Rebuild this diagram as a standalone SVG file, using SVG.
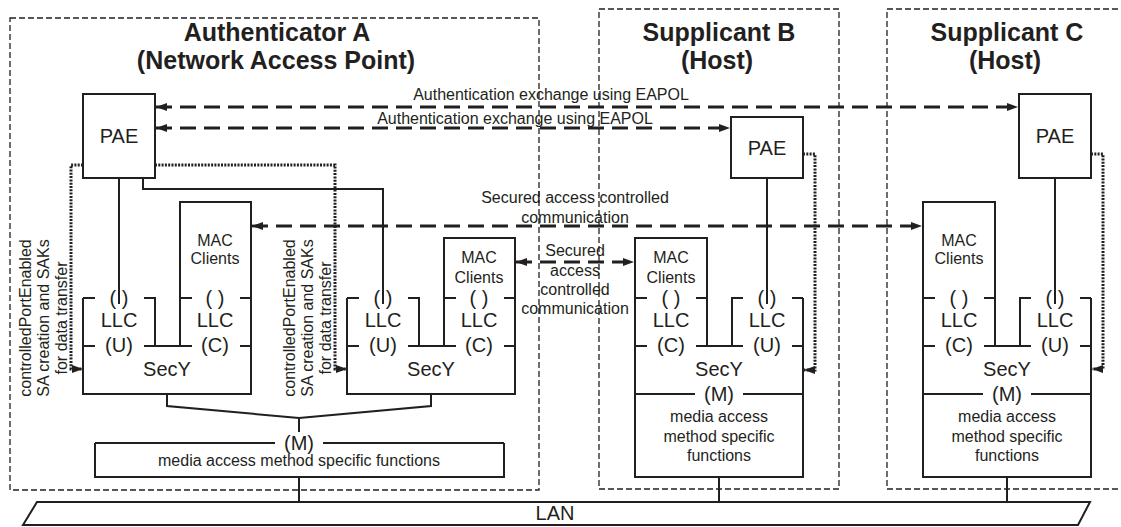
<svg xmlns="http://www.w3.org/2000/svg" width="1121" height="527" viewBox="0 0 1121 527">
<defs>
<marker id="ah" viewBox="0 0 11 8" refX="11" refY="4" markerWidth="11" markerHeight="8" markerUnits="userSpaceOnUse" orient="auto-start-reverse"><path d="M0,0 L11,4 L0,8 z" fill="#231f20"/></marker>
</defs>
<style>
.bx{fill:none;stroke:#231f20;stroke-width:1.3;stroke-dasharray:6 3}
.ln{fill:none;stroke:#231f20;stroke-width:2}
.dash{fill:none;stroke:#231f20;stroke-width:2.8;stroke-dasharray:16 8}
.dot{fill:none;stroke:#231f20;stroke-width:3;stroke-dasharray:2 1.3}
text{font-family:"Liberation Sans",Arial,sans-serif;fill:#231f20}
.t{font-size:25px;font-weight:bold;text-anchor:middle}
.m{font-size:20px;text-anchor:middle}
.s{font-size:16px;text-anchor:middle}
</style>
<rect width="1121" height="527" fill="#fff"/>

<g id="authenticatorA">
<rect class="bx" x="10" y="18" width="529" height="472"/>
<text class="t" x="277" y="41">Authenticator A</text>
<text class="t" x="276" y="69">(Network Access Point)</text>
</g>
<g id="supplicantB">
<rect class="bx" x="599" y="9" width="240" height="480"/>
<text class="t" x="719" y="41">Supplicant B</text>
<text class="t" x="717" y="69">(Host)</text>
</g>
<g id="supplicantC">
<rect class="bx" x="887" y="9" width="240" height="480"/>
<text class="t" x="1007" y="41">Supplicant C</text>
<text class="t" x="1005" y="69">(Host)</text>
</g>

<g id="paeA"><rect class="ln" x="83" y="94" width="72" height="84"/><text class="m" x="119" y="143">PAE</text></g>
<g id="paeB"><rect class="ln" x="731" y="117" width="72" height="61"/><text class="m" x="767" y="155">PAE</text></g>
<g id="paeC"><rect class="ln" x="1019" y="94" width="72" height="84"/><text class="m" x="1055" y="143">PAE</text></g>

<g id="stackA1">
<path class="ln" d="M83,298 V394 H251 V202 H180 V346 M83,298 H95 M144,298 H155 V346 M180,298 H192 M240,298 H251 M83,346 H95 M144,346 H192 M240,346 H251"/>
<text class="s" x="215" y="246">MAC</text><text class="s" x="215" y="264">Clients</text>
<text class="m" x="119" y="305">( )</text><text class="m" x="119" y="327">LLC</text><text class="m" x="119" y="352">(U)</text>
<text class="m" x="215" y="305">( )</text><text class="m" x="215" y="327">LLC</text><text class="m" x="215" y="352">(C)</text>
<text class="m" x="167" y="376">SecY</text>
</g>
<g id="stackA2">
<path class="ln" d="M347,298 V394 H515 V238 H444 V346 M347,298 H359 M408,298 H419 V346 M444,298 H456 M504,298 H515 M347,346 H359 M408,346 H456 M504,346 H515"/>
<text class="s" x="479" y="263">MAC</text><text class="s" x="479" y="283">Clients</text>
<text class="m" x="383" y="305">( )</text><text class="m" x="383" y="327">LLC</text><text class="m" x="383" y="352">(U)</text>
<text class="m" x="479" y="305">( )</text><text class="m" x="479" y="327">LLC</text><text class="m" x="479" y="352">(C)</text>
<text class="m" x="431" y="376">SecY</text>
</g>
<g id="mediaA">
<path class="ln" d="M95,443 V477 H504 V443 M95,443 H275 M323,443 H504"/>
<text class="m" x="299" y="450">(M)</text>
<text class="s" x="299" y="466">media access method specific functions</text>
</g>

<g id="stackB">
<path class="ln" d="M707,346 V238 H635 V477 H803 V298 M732,346 V298 H743 M792,298 H803 M635,298 H647 M696,298 H707 M635,346 H647 M696,346 H743 M792,346 H803 M635,394 H695 M743,394 H803"/>
<text class="s" x="671" y="263">MAC</text><text class="s" x="671" y="283">Clients</text>
<text class="m" x="671" y="305">( )</text><text class="m" x="671" y="327">LLC</text><text class="m" x="671" y="352">(C)</text>
<text class="m" x="767" y="305">( )</text><text class="m" x="767" y="327">LLC</text><text class="m" x="767" y="352">(U)</text>
<text class="m" x="719" y="376">SecY</text>
<text class="m" x="719" y="401">(M)</text>
<text class="s" x="719" y="422">media access</text><text class="s" x="719" y="442">method specific</text><text class="s" x="719" y="461">functions</text>
</g>
<g id="stackC">
<path class="ln" d="M995,346 V202 H923 V477 H1091 V298 M1020,346 V298 H1031 M1080,298 H1091 M923,298 H935 M984,298 H995 M923,346 H935 M984,346 H1031 M1080,346 H1091 M923,394 H983 M1031,394 H1091"/>
<text class="s" x="959" y="246">MAC</text><text class="s" x="959" y="264">Clients</text>
<text class="m" x="959" y="305">( )</text><text class="m" x="959" y="327">LLC</text><text class="m" x="959" y="352">(C)</text>
<text class="m" x="1055" y="305">( )</text><text class="m" x="1055" y="327">LLC</text><text class="m" x="1055" y="352">(U)</text>
<text class="m" x="1007" y="376">SecY</text>
<text class="m" x="1007" y="401">(M)</text>
<text class="s" x="1007" y="422">media access</text><text class="s" x="1007" y="442">method specific</text><text class="s" x="1007" y="461">functions</text>
</g>

<g id="lan">
<polygon class="ln" points="37,502 1090,502 1078,525 23,525"/>
<text class="m" x="555" y="520">LAN</text>
</g>

<g id="connectors">
<path class="ln" d="M119,178 V304 M143,178 V189 H383 V304 M767,178 V304 M1055,178 V304"/>
<path class="ln" d="M167,394 V406 L299,418 L431,406 V394 M299,418 V432 M299,477 V502 M719,477 V502 M1007,477 V502"/>
<path class="dot" marker-end="url(#ah)" d="M83,165 H71 V369 H83"/>
<path class="dot" marker-end="url(#ah)" d="M155,165 H335 V369 H347"/>
<path class="dot" marker-end="url(#ah)" d="M803,154 H815 V370 H804"/>
<path class="dot" marker-end="url(#ah)" d="M1091,154 H1103 V369 H1092"/>
<path class="dash" marker-start="url(#ah)" marker-end="url(#ah)" d="M156,107 H1018"/>
<path class="dash" marker-start="url(#ah)" marker-end="url(#ah)" d="M156,128 H730"/>
<path class="dash" marker-start="url(#ah)" marker-end="url(#ah)" d="M252,226 H922"/>
<path class="dash" marker-start="url(#ah)" marker-end="url(#ah)" d="M516,262 H634"/>
<text class="s" x="551" y="100">Authentication exchange using EAPOL</text>
<text class="s" x="515" y="124">Authentication exchange using EAPOL</text>
<text class="s" x="575" y="203">Secured access controlled</text>
<text class="s" x="575" y="223">communication</text>
<text class="s" x="575" y="256">Secured</text>
<text class="s" x="575" y="276">access</text>
<text class="s" x="575" y="295">controlled</text>
<text class="s" x="575" y="314">communication</text>
<text class="s" transform="translate(31,318) rotate(-90)">controlledPortEnabled</text>
<text class="s" transform="translate(49,318) rotate(-90)">SA creation and SAKs</text>
<text class="s" transform="translate(67,318) rotate(-90)">for data transfer</text>
<text class="s" transform="translate(295,318) rotate(-90)">controlledPortEnabled</text>
<text class="s" transform="translate(313,318) rotate(-90)">SA creation and SAKs</text>
<text class="s" transform="translate(331,318) rotate(-90)">for data transfer</text>
</g>
</svg>
